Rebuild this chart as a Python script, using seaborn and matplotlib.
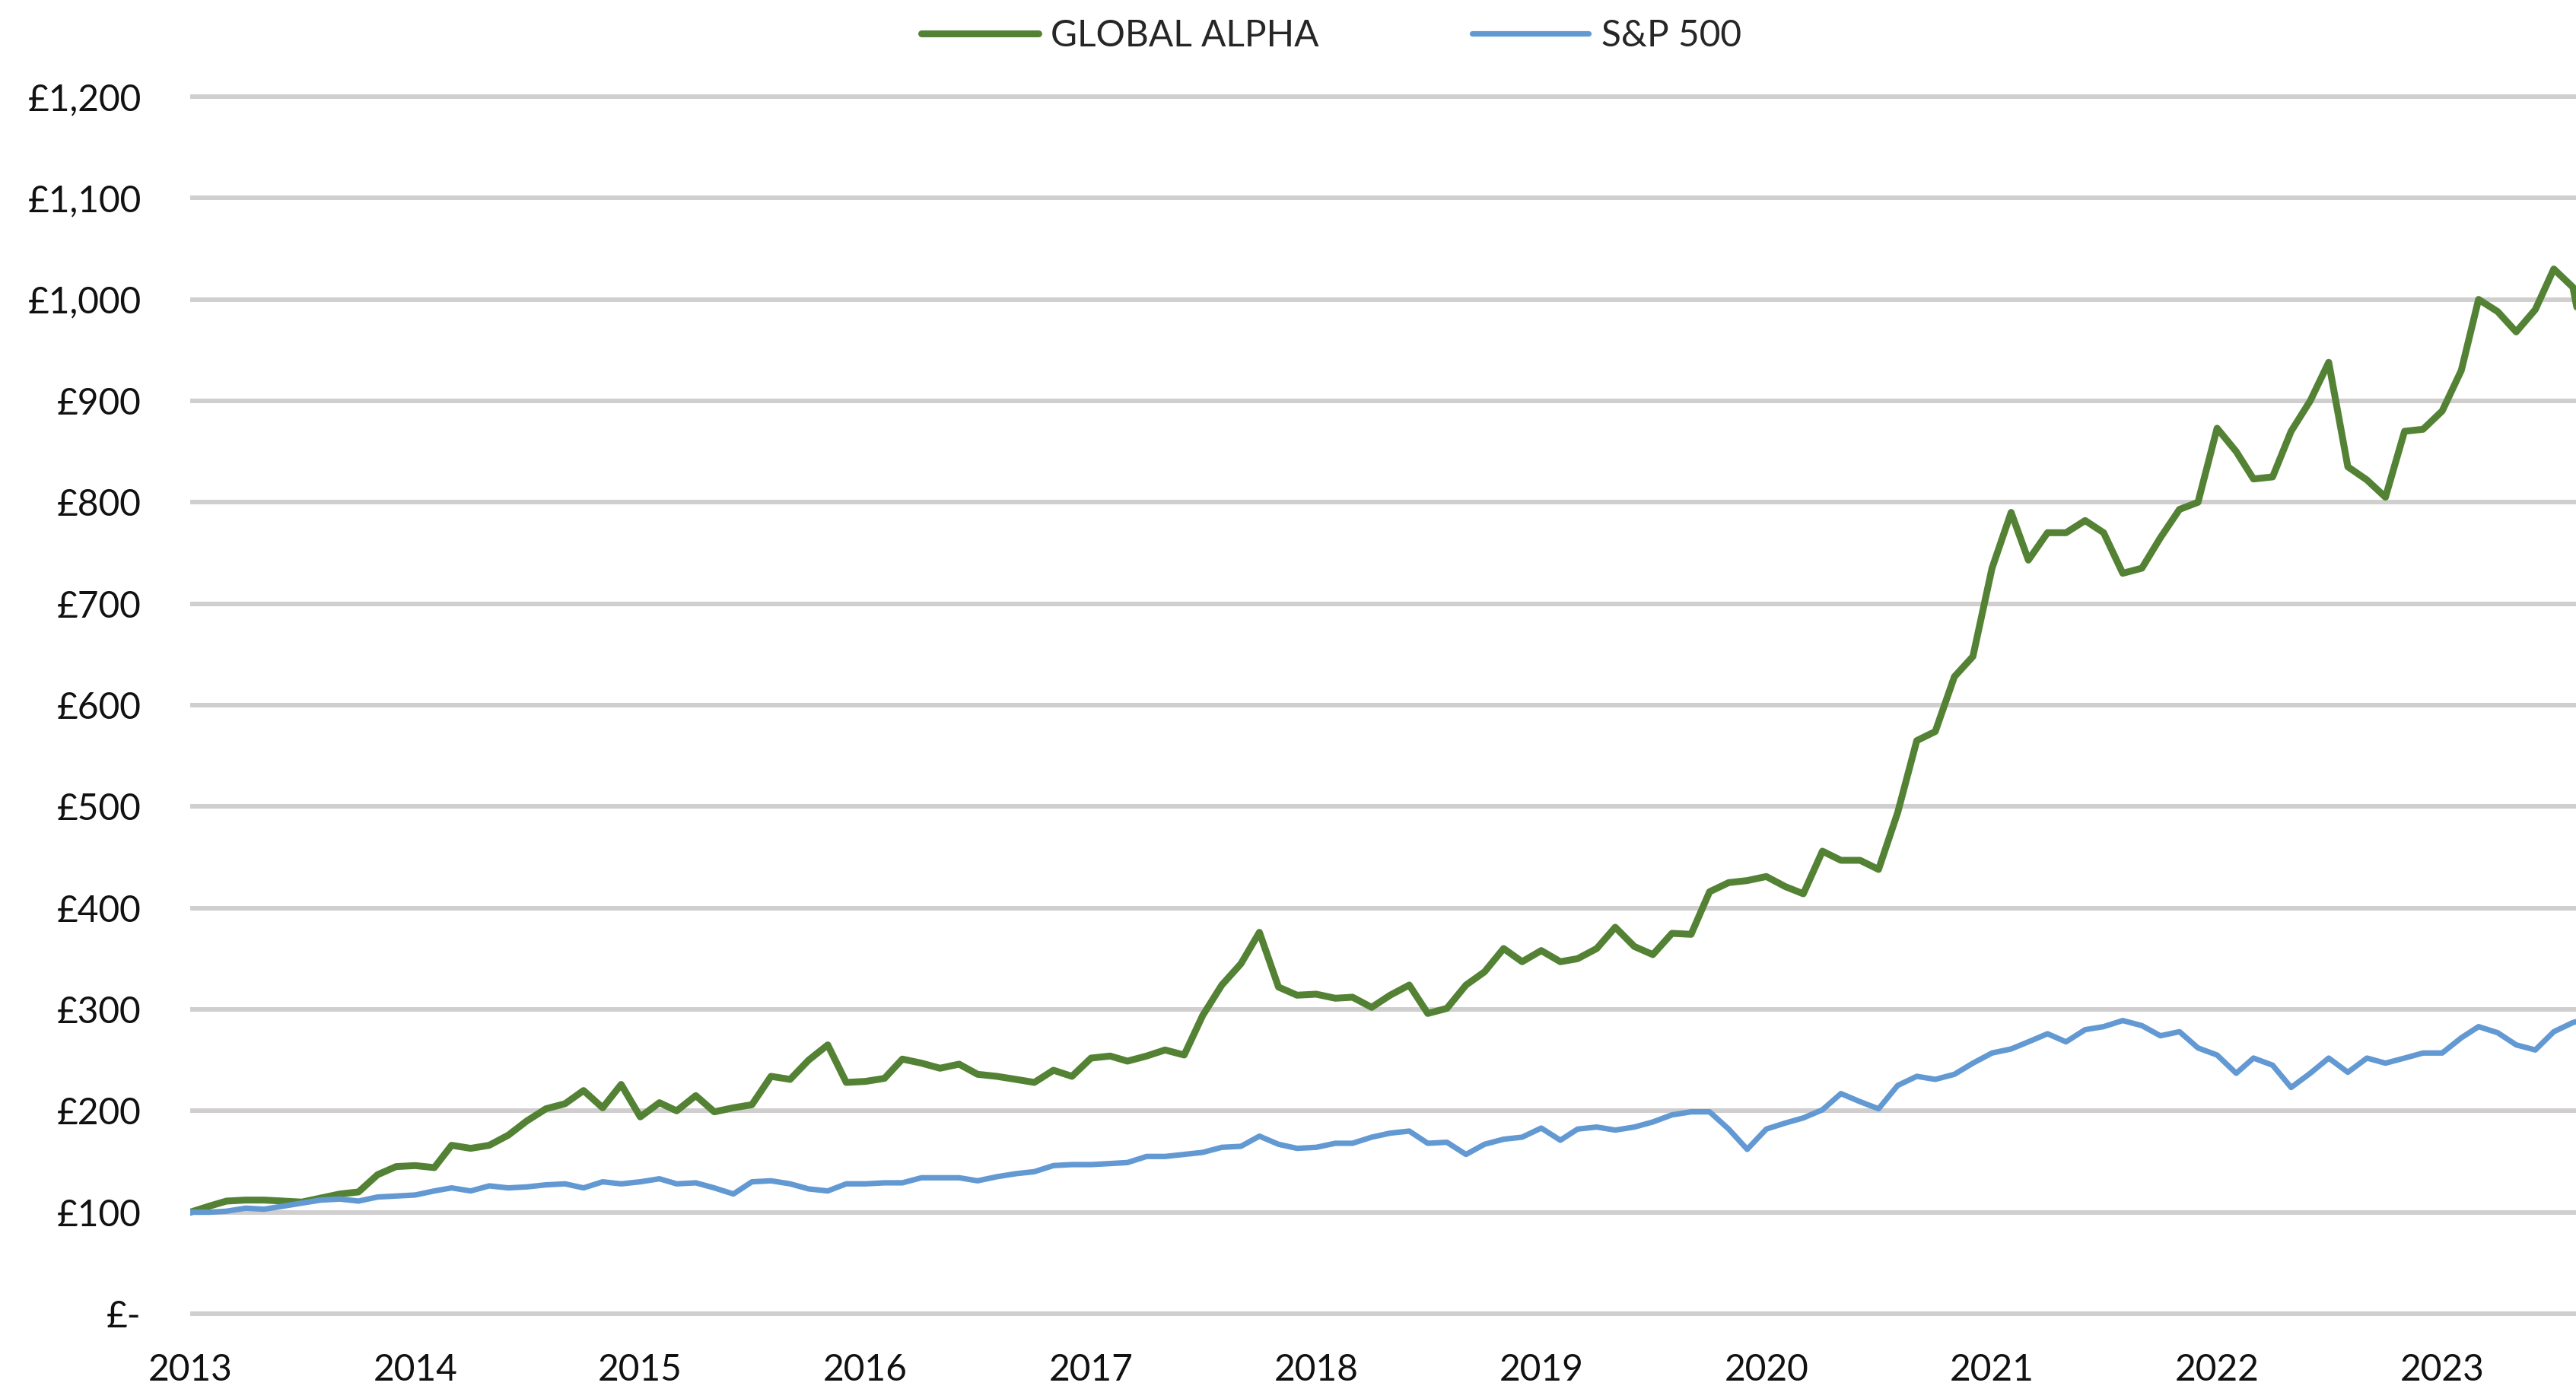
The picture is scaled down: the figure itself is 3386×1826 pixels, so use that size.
import matplotlib
matplotlib.use("Agg")
import matplotlib.pyplot as plt
import matplotlib.dates as mdates
import seaborn as sns
import pandas as pd
from matplotlib.lines import Line2D

# ---- data (monthly, from Jan 2013) ----
global_alpha = [
    100, 106, 111, 112, 112, 111, 110, 114, 118, 120, 137, 145,
    146, 144, 166, 163, 166, 176, 190, 202, 207, 220, 203, 226,
    194, 208, 200, 215, 199, 203, 206, 234, 231, 250, 265, 228,
    229, 232, 251, 247, 242, 246, 236, 234, 231, 228, 240, 234,
    252, 254, 249, 254, 260, 255, 294, 324, 345, 376, 322, 314,
    315, 311, 312, 302, 314, 324, 296, 301, 324, 337, 360, 347,
    358, 347, 350, 360, 381, 362, 354, 375, 374, 416, 425, 427,
    431, 421, 414, 456, 447, 447, 438, 494, 565, 574, 628, 648,
    735, 790, 743, 770, 770, 782, 770, 730, 735, 765, 793, 800,
    873, 850, 823, 825, 870, 900, 938, 835, 822, 805, 870, 872,
    890, 930, 1000, 988, 968, 990, 1030, 1012, 915,
]
sp500 = [
    100, 100, 101, 104, 103, 106, 109, 112, 113, 111, 115, 116,
    117, 121, 124, 121, 126, 124, 125, 127, 128, 124, 130, 128,
    130, 133, 128, 129, 124, 118, 130, 131, 128, 123, 121, 128,
    128, 129, 129, 134, 134, 134, 131, 135, 138, 140, 146, 147,
    147, 148, 149, 155, 155, 157, 159, 164, 165, 175, 167, 163,
    164, 168, 168, 174, 178, 180, 168, 169, 157, 167, 172, 174,
    183, 171, 182, 184, 181, 184, 189, 196, 199, 199, 182, 162,
    182, 188, 193, 201, 217, 209, 202, 225, 234, 231, 236, 247,
    257, 261, 268, 276, 268, 280, 283, 289, 284, 274, 278, 262,
    255, 237, 252, 245, 223, 237, 252, 238, 252, 247, 252, 257,
    257, 272, 283, 277, 265, 260, 278, 287, 292,
]
series_names = ["GLOBAL ALPHA", "S&P 500"]
y_ticks = list(range(0, 1300, 100))
y_tick_labels = ["£-"] + ["£{:,}".format(v) for v in y_ticks[1:]]

dates = pd.date_range("2013-01-01", periods=len(global_alpha), freq="MS")
df = pd.DataFrame({
    "date": list(dates) * 2,
    "value": global_alpha + sp500,
    "series": [series_names[0]] * len(global_alpha) + [series_names[1]] * len(sp500),
})

# ---- style ----
sns.set_theme(style="white")
plt.rcParams["font.family"] = ["Lato", "DejaVu Sans"]

GREEN = "#548235"
BLUE = "#6399D3"
GRID = "#D0CECE"
FS = 34.5

fig = plt.figure(figsize=(33.86, 18.26), dpi=100)
ax = fig.add_axes([0.0738, 0.0484, 1.0 - 0.0738, 0.9363 - 0.0484])

sns.lineplot(
    data=df, x="date", y="value", hue="series",
    palette={series_names[0]: GREEN, series_names[1]: BLUE},
    hue_order=series_names, ax=ax, legend=False,
    estimator=None, sort=False,
)
lines = ax.get_lines()
lines[0].set_linewidth(6.5)
lines[1].set_linewidth(5.2)
for ln in lines:
    ln.set_solid_joinstyle("round")
    ln.set_solid_capstyle("round")
lines[0].set_zorder(3)
lines[1].set_zorder(4)

ax.set_ylim(-8, 1208)
ax.set_xlim(pd.Timestamp("2013-01-01"), pd.Timestamp("2023-08-06"))
ax.set_yticks(y_ticks)
ax.set_yticklabels(y_tick_labels)
ax.xaxis.set_major_locator(mdates.YearLocator())
ax.xaxis.set_major_formatter(mdates.DateFormatter("%Y"))

ax.grid(axis="y", color=GRID, linewidth=4.3, zorder=0)
ax.grid(axis="x", visible=False)
ax.set_axisbelow(True)
for s in ax.spines.values():
    s.set_visible(False)
ax.tick_params(axis="y", length=0, pad=46, labelsize=FS, labelcolor="#111111")
ax.tick_params(axis="x", length=0, pad=30, labelsize=FS, labelcolor="#111111")
ax.set_xlabel("")
ax.set_ylabel("")

handles = [Line2D([], [], color=GREEN, linewidth=6.5, solid_capstyle="round"),
           Line2D([], [], color=BLUE, linewidth=5.2, solid_capstyle="round")]
fig.legend(handles, series_names, loc="center", bbox_to_anchor=(0.5169, 0.9745),
           ncol=2, frameon=False, fontsize=FS, handlelength=3.2,
           handletextpad=0.35, columnspacing=4.2)

fig.savefig("out.png", dpi=100)
